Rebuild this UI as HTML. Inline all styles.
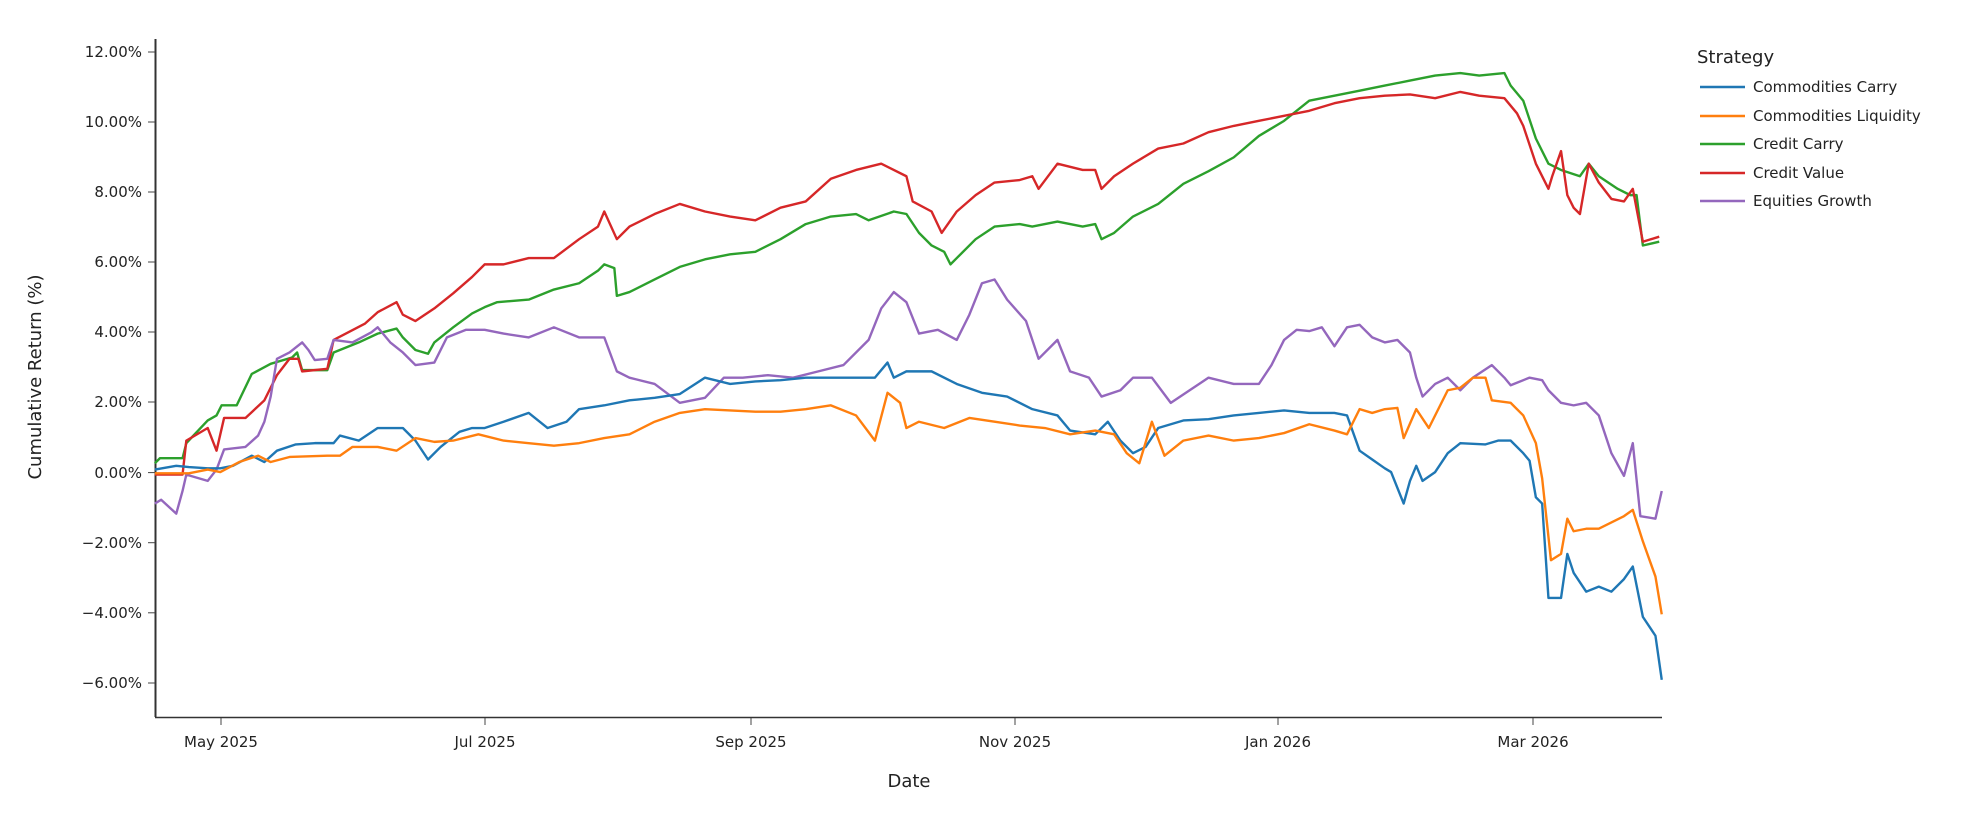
<!DOCTYPE html>
<html><head><meta charset="utf-8"><style>
body{margin:0;background:#fff;}
svg text{font-family:"DejaVu Sans","Liberation Sans",sans-serif;fill:#222;}
</style></head><body>
<svg width="1974" height="818" viewBox="0 0 1974 818" xmlns="http://www.w3.org/2000/svg">
<rect width="1974" height="818" fill="#fff"/>
<line x1="155.5" y1="39" x2="155.5" y2="717" stroke="#333" stroke-width="2"/>
<line x1="155" y1="717.5" x2="1662" y2="717.5" stroke="#333" stroke-width="1.5"/>
<g stroke="#444" stroke-width="1">
<line x1="148" x2="155" y1="52" y2="52"/><line x1="148" x2="155" y1="122" y2="122"/><line x1="148" x2="155" y1="192" y2="192"/><line x1="148" x2="155" y1="262" y2="262"/><line x1="148" x2="155" y1="332" y2="332"/><line x1="148" x2="155" y1="402" y2="402"/><line x1="148" x2="155" y1="472.6" y2="472.6"/><line x1="148" x2="155" y1="542.7" y2="542.7"/><line x1="148" x2="155" y1="612.8" y2="612.8"/><line x1="148" x2="155" y1="683" y2="683"/>
<line x1="221" x2="221" y1="718" y2="725"/><line x1="485" x2="485" y1="718" y2="725"/><line x1="751" x2="751" y1="718" y2="725"/><line x1="1015" x2="1015" y1="718" y2="725"/><line x1="1278" x2="1278" y1="718" y2="725"/><line x1="1533" x2="1533" y1="718" y2="725"/>
</g>
<g font-size="15" text-anchor="end">
<text x="142" y="57">12.00%</text><text x="142" y="127">10.00%</text><text x="142" y="197">8.00%</text><text x="142" y="267">6.00%</text><text x="142" y="337">4.00%</text><text x="142" y="407">2.00%</text><text x="142" y="478">0.00%</text><text x="142" y="548">−2.00%</text><text x="142" y="618">−4.00%</text><text x="142" y="688">−6.00%</text>
</g>
<g font-size="15" text-anchor="middle">
<text x="221" y="747">May 2025</text><text x="485" y="747">Jul 2025</text><text x="751" y="747">Sep 2025</text><text x="1015" y="747">Nov 2025</text><text x="1278" y="747">Jan 2026</text><text x="1533" y="747">Mar 2026</text>
</g>
<text x="909" y="787" font-size="18" text-anchor="middle">Date</text>
<text transform="translate(41,377) rotate(-90)" font-size="18" text-anchor="middle">Cumulative Return (%)</text>
<text x="1697" y="63" font-size="18">Strategy</text>
<g stroke-width="2.5">
<line x1="1700" x2="1745" y1="87" y2="87" stroke="#1f77b4"/>
<line x1="1700" x2="1745" y1="116" y2="116" stroke="#ff7f0e"/>
<line x1="1700" x2="1745" y1="144" y2="144" stroke="#2ca02c"/>
<line x1="1700" x2="1745" y1="173" y2="173" stroke="#d62728"/>
<line x1="1700" x2="1745" y1="201" y2="201" stroke="#9467bd"/>
</g>
<g font-size="15">
<text x="1753" y="92">Commodities Carry</text>
<text x="1753" y="121">Commodities Liquidity</text>
<text x="1753" y="149">Credit Carry</text>
<text x="1753" y="178">Credit Value</text>
<text x="1753" y="206">Equities Growth</text>
</g>
<g transform="scale(1.2589)" fill="none" stroke-width="1.9" stroke-linejoin="round">
<polyline stroke="#2ca02c" points="123,368 127,364 145,364 148,352 165,334 172,330 176,322 188,322 200,297 215,289 232,284 236,280 240,294 260,294 265,280 285,272 300,265 315,261 320,268 330,278 340,281 345,272 360,260 375,249 385,244 395,240 420,238 440,230 460,225 475,215 480,210 488,213 490,235 500,232 520,222 540,212 560,206 580,202 600,200 620,190 640,178 660,172 680,170 690,175 710,168 720,170 730,185 740,195 750,200 755,210 760,205 775,190 790,180 810,178 820,180 840,176 860,180 870,178 875,190 885,185 900,172 920,162 940,146 960,136 980,125 1000,108 1020,96 1040,80 1060,76 1080,72 1100,68 1120,64 1140,60 1160,58 1175,60 1195,58 1200,68 1210,80 1215,95 1220,110 1230,130 1240,135 1255,140 1262,130 1270,140 1285,150 1295,155 1300,155 1305,195 1318,192"/>
<polyline stroke="#d62728" points="123,377 145,377 148,350 165,340 172,358 178,332 195,332 210,318 220,298 230,285 237,285 240,295 260,293 265,270 290,257 300,248 315,240 320,250 330,255 345,245 360,233 375,220 385,210 400,210 420,205 440,205 460,190 475,180 480,168 490,190 500,180 520,170 540,162 560,168 580,172 600,175 620,165 640,160 660,142 680,135 700,130 720,140 725,160 740,168 748,185 760,168 775,155 790,145 810,143 820,140 825,150 840,130 860,135 870,135 875,150 885,140 900,130 920,118 940,114 960,105 980,100 1000,96 1020,92 1040,88 1060,82 1080,78 1100,76 1120,75 1140,78 1160,73 1175,76 1195,78 1205,90 1210,100 1220,130 1230,150 1233,140 1240,120 1245,155 1250,165 1255,170 1262,130 1270,145 1280,158 1290,160 1297,150 1305,192 1318,188"/>
<polyline stroke="#9467bd" points="123,400 128,397 140,408 145,390 148,377 165,382 172,373 178,357 195,355 205,346 210,335 215,315 220,285 230,280 240,272 245,278 250,286 260,285 265,270 280,272 295,264 300,260 310,272 320,280 330,290 345,288 355,268 370,262 385,262 400,265 420,268 440,260 460,268 480,268 490,295 500,300 520,305 540,320 560,316 575,300 590,300 610,298 630,300 650,295 670,290 690,270 700,245 710,232 720,240 730,265 745,262 760,270 770,250 780,225 790,222 800,238 815,255 825,285 840,270 850,295 865,300 875,315 890,310 900,300 915,300 930,320 945,310 960,300 980,305 1000,305 1010,290 1020,270 1030,262 1040,263 1050,260 1060,275 1070,260 1080,258 1090,268 1100,272 1110,270 1120,280 1125,300 1130,315 1140,305 1150,300 1160,310 1170,300 1185,290 1195,300 1200,306 1215,300 1225,302 1230,310 1240,320 1250,322 1260,320 1270,330 1280,360 1290,378 1297,352 1303,410 1315,412 1320,390"/>
<polyline stroke="#1f77b4" points="123,373 140,370 150,371 165,372 175,372 185,370 200,362 210,367 220,358 235,353 250,352 265,352 270,346 285,350 300,340 320,340 330,350 340,365 350,355 365,343 375,340 385,340 400,335 420,328 435,340 450,335 460,325 480,322 500,318 520,316 540,313 560,300 580,305 600,303 620,302 640,300 660,300 680,300 695,300 705,288 710,300 720,295 740,295 760,305 780,312 800,315 820,325 840,330 850,342 870,345 880,335 890,350 900,360 910,355 920,340 940,334 960,333 980,330 1000,328 1020,326 1040,328 1060,328 1070,330 1080,358 1090,365 1100,372 1105,375 1115,400 1120,382 1125,370 1130,382 1140,375 1150,360 1160,352 1180,353 1190,350 1200,350 1210,360 1215,366 1220,395 1225,400 1230,475 1240,475 1245,440 1250,455 1260,470 1270,466 1280,470 1290,460 1297,450 1305,490 1315,505 1320,540"/>
<polyline stroke="#ff7f0e" points="123,376 150,376 165,373 175,375 190,367 205,362 215,367 230,363 260,362 270,362 280,355 300,355 315,358 330,348 345,351 360,350 380,345 400,350 420,352 440,354 460,352 480,348 500,345 520,335 540,328 560,325 580,326 600,327 620,327 640,325 660,322 680,330 695,350 705,312 715,320 720,340 730,335 750,340 770,332 790,335 810,338 830,340 850,345 870,342 885,345 895,360 905,368 915,335 925,362 940,350 960,346 980,350 1000,348 1020,344 1040,337 1060,342 1070,345 1080,325 1090,328 1100,325 1110,324 1115,348 1125,325 1135,340 1150,310 1160,308 1170,300 1180,300 1185,318 1200,320 1210,330 1220,352 1225,380 1232,445 1240,440 1245,412 1250,422 1260,420 1270,420 1280,415 1290,410 1297,405 1305,430 1315,458 1320,488"/>
</g>
</svg>
</body></html>
